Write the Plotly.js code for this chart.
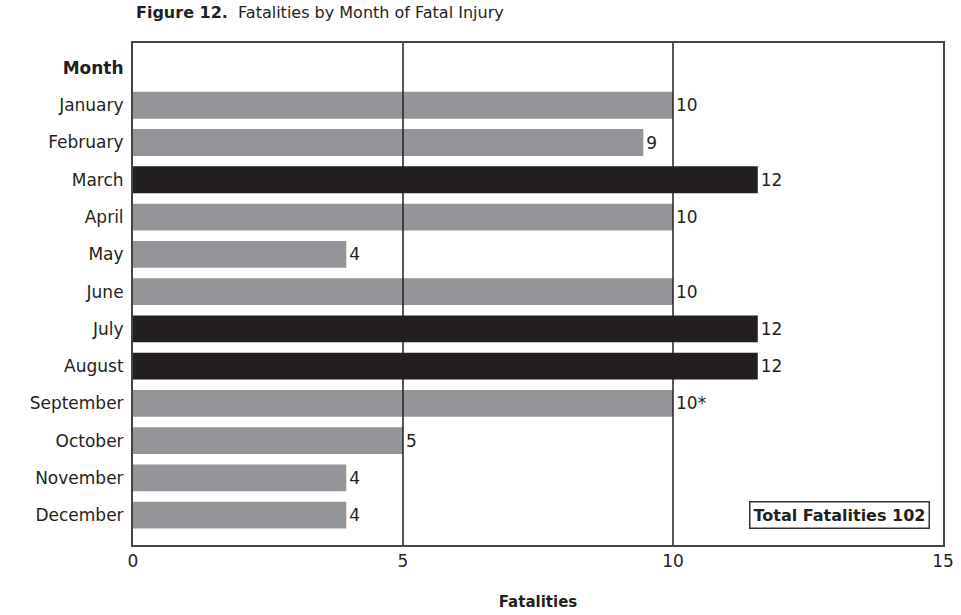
<!DOCTYPE html>
<html>
<head>
<meta charset="utf-8">
<script src="https://cdn.plot.ly/plotly-3.0.1.min.js"></script>
<style>html,body{margin:0;padding:0;background:#fff;}</style>
</head>
<body>
<div id="chart" style="width:961px;height:615px;"></div>
<script>
// Data
const months = ["January","February","March","April","May","June","July","August","September","October","November","December"];
const barLengths = [10, 9.45, 11.57, 10, 3.95, 10, 11.57, 11.57, 10, 5, 3.95, 3.95];
const valueLabels = ["10","9","12","10","4","10","12","12","10*","5","4","4"];
const highlighted = [false,false,true,false,false,false,true,true,false,false,false,false];
const xTicks = [0, 5, 10, 15];
const gridValues = [5, 10];
const headerLabel = "Month";
const totalText = "Total Fatalities 102";

const GRAY = "#939598";
const BLACK = "#231f20";
const FONT = "DejaVu Sans, Verdana, sans-serif";

const categories = [headerLabel].concat(months);

const trace = {
  type: "bar",
  orientation: "h",
  x: barLengths,
  y: months,
  width: 0.72,
  marker: { color: highlighted.map(h => h ? BLACK : GRAY), line: { width: 0 } },
  text: valueLabels,
  textposition: "outside",
  textfont: { family: FONT, size: 17, color: BLACK },
  constraintext: "none",
  cliponaxis: false,
  hoverinfo: "none"
};

const shapes = gridValues.map(v => ({
  type: "line", xref: "x", yref: "paper", x0: v, x1: v, y0: 0, y1: 1,
  line: { color: BLACK, width: 1.5 }, layer: "above"
}));

const layout = {
  width: 961, height: 615,
  margin: { l: 133, r: 18, t: 43, b: 70, pad: 0 },
  paper_bgcolor: "#fff", plot_bgcolor: "#fff",
  font: { family: FONT, color: BLACK, size: 17 },
  showlegend: false,
  title: {
    text: "<b>Figure 12.</b>  Fatalities by Month of Fatal Injury",
    font: { family: FONT, size: 16, color: BLACK },
    x: 0, xref: "paper", xanchor: "left",
    y: 1, yref: "container", yanchor: "top", pad: { t: 7, l: 3 }
  },
  xaxis: {
    range: [0, 15],
    tickvals: xTicks,
    ticktext: xTicks.map(String),
    ticks: "",
    showgrid: false,
    zeroline: false,
    showline: true, mirror: true, linecolor: "#444", linewidth: 2,
    tickfont: { family: FONT, size: 17, color: BLACK },
    title: { text: "<b>Fatalities</b>", font: { family: FONT, size: 15, color: BLACK }, standoff: 26 },
    automargin: false
  },
  yaxis: {
    type: "category",
    categoryorder: "array",
    categoryarray: categories,
    tickvals: categories,
    ticktext: categories.map((c, i) => i === 0 ? "<b>" + c + "</b>" : c),
    range: [12.8, -0.67],
    ticks: "",
    showgrid: false,
    zeroline: false,
    showline: true, mirror: true, linecolor: "#444", linewidth: 2,
    tickfont: { family: FONT, size: 17, color: BLACK },
    ticklabelstandoff: 4,
    automargin: false
  },
  shapes: shapes,
  annotations: [{
    text: "<b>" + totalText + "</b>",
    xref: "paper", yref: "paper",
    x: 0.984, y: 0.032, xanchor: "right", yanchor: "bottom",
    showarrow: false,
    font: { family: FONT, size: 16, color: BLACK },
    bordercolor: "#333", borderwidth: 1.5, borderpad: 3, bgcolor: "#fff"
  }]
};

Plotly.newPlot("chart", [trace], layout, { displayModeBar: false, staticPlot: true });
</script>
</body>
</html>
